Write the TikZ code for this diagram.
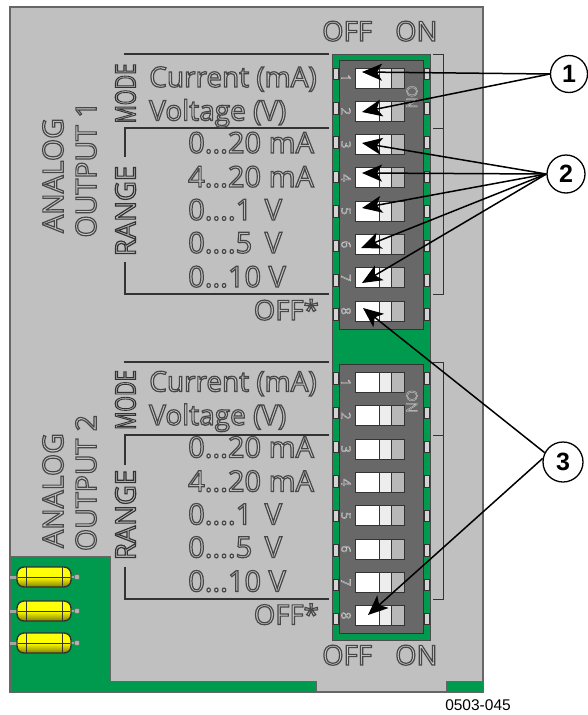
\documentclass[tikz,border=0pt]{standalone}
\usepackage{fontspec}
\setmainfont{Open Sans}
\newfontfamily\arialf{Liberation Sans}
\usetikzlibrary{arrows.meta}
\definecolor{panel}{HTML}{C0C0C0}
\definecolor{board}{HTML}{009A4E}
\definecolor{dipgray}{HTML}{686868}
\definecolor{dark}{HTML}{333333}
\newcommand{\outl}[1]{\special{pdf:code q 2 Tr 1.2 w 0.28 0.28 0.28 RG 0.80 0.80 0.80 rg}#1\special{pdf:code Q}}
\newcommand{\outb}[1]{\special{pdf:code q 2 Tr 1.2 w 0.2 0.2 0.2 RG 0.75 0.75 0.75 rg}#1\special{pdf:code Q}}
\newcommand{\outw}[1]{\special{pdf:code q 2 Tr 0.3 w 0.85 0.85 0.85 RG 0.45 0.45 0.45 rg}#1\special{pdf:code Q}}
\tikzset{
  x=1pt,y=-1pt,
  lab/.style={anchor=base west,inner sep=0pt,font=\fontsize{28}{28}\selectfont},
  labr/.style={anchor=base west,inner sep=0pt,font=\fontsize{29}{28}\selectfont},
  lblr/.style={anchor=base east,inner sep=0pt,font=\fontsize{27.5}{28}\selectfont},
  rotlab/.style={rotate=90,inner sep=0pt,font=\fontsize{28.5}{28}\selectfont},
  modelab/.style={rotate=90,inner sep=0pt,font=\fontsize{28}{28}\selectfont},
  onoff/.style={anchor=base west,inner sep=0pt,font=\fontsize{27.5}{28}\selectfont},
  brule/.style={draw=dark,line width=1.5pt},
  dippin/.style={draw=dark,fill=panel!70!white,line width=.7pt},
  swbox/.style={draw=dark,line width=.9pt},
  callmark/.style={circle,draw=black,fill=white,line width=1.3pt,inner sep=0pt,minimum size=37pt,font=\arialf\fontsize{25}{25}\bfseries\selectfont},
  leader/.style={draw=black,line width=1.5pt,-{Stealth[length=20pt,width=17pt,inset=5pt]}},
  capbody/.style={draw=black!80,line width=1.4pt,rounded corners=7pt,top color=yellow!95!white,bottom color=yellow!50!black,middle color=yellow},
  capline/.style={draw=black!80,line width=.8pt}
}
\begin{document}
\begin{tikzpicture}
\useasboundingbox (0,0) rectangle (587,715);
\fill[white] (0,0) rectangle (587,715);
% panel
\filldraw[fill=panel,draw=black!60,line width=1.2pt] (10,7) rectangle (483,692);
% board areas
\filldraw[fill=board,draw=black!60,line width=.8pt] (10,556) -- (110,556) -- (110,681) -- (316,681) -- (316,692) -- (10,692) -- cycle;
\filldraw[fill=board,draw=black!60,line width=.8pt] (446,681) rectangle (483,692);
% capacitors
\foreach \yy in {577,611,643}{
  \fill[gray!70] (10,\yy-1.5) rectangle (18,\yy+1.5);
  \fill[gray!70] (70,\yy-1.2) rectangle (77,\yy+1.2);
  \filldraw[fill=gray!60,draw=black!60,line width=.5pt] (77,\yy) circle (2.8);
  \path[capbody] (17,\yy-10) rectangle (71,\yy+10);
  \draw[capline] (26,\yy-10) -- (26,\yy+10);
  \draw[capline] (62,\yy-10) -- (62,\yy+10);
  \draw[capline] (18,\yy) -- (70,\yy);
}
% DIP carrier
\filldraw[fill=board,draw=black!70,line width=1pt] (332,54) rectangle (430,640);
\foreach \o/\g/\tp in {0/a/68,304.5/b/372.5}{
  \filldraw[fill=dipgray,draw=dark,line width=1pt] (339,60+\o) rectangle (423,329+\o);
  \foreach \i in {1,...,8}{
    \pgfmathsetmacro{\swt}{\tp+33.3*(\i-1)}
    \pgfmathsetmacro{\pny}{\swt+1.1*(\i-1)}
    \filldraw[dippin] (333.5,\pny) rectangle (338,\pny+11.5);
    \filldraw[dippin] (424,\pny) rectangle (429,\pny+11.5);
    \filldraw[swbox,fill=white] (355,\swt) rectangle (379,\swt+20);
    \filldraw[swbox,fill=white!93!black] (379,\swt) rectangle (391,\swt+20);
    \filldraw[swbox,fill=white!72!black] (391,\swt) rectangle (404,\swt+20);
    \node[rotate=-90,inner sep=0pt,font=\fontsize{13}{13}\selectfont] (n\g\i) at (346,\swt+10) {\outw{\i}};
  }
  \node[rotate=-90,inner sep=0pt,font=\fontsize{15}{15}\selectfont] (on\g) at (412,97+\o) {\outw{ON}};
}
% rules left
\foreach \yt/\ym/\yb/\ra/\rb in {54/128/294/157/262, 362/435/599/465/567}{
  \draw[brule] (124,\yt) -- (329,\yt);
  \draw[brule] (329,\ym) -- (125,\ym) -- (125,\ra);
  \draw[brule] (125,\rb) -- (125,\yb) -- (329,\yb);
  \draw[brule,line width=1pt] (433,\yt) -- (443,\yt) -- (443,\yb) -- (433,\yb);
  \draw[brule,line width=1pt] (433,\ym) -- (443,\ym);
}
% labels
\foreach \o/\g in {0/a,304.5/b}{
  \node[lab] (cur\g) at (149,87+\o) {\outl{Current (mA)}};
  \node[lab] (vol\g) at (149,120.5+\o) {\outl{Voltage (V)}};
  \node[labr] (r1\g) at (188,153+\o) {\outl{0...20 mA}};
  \node[labr] (r2\g) at (188,187+\o) {\outl{4...20 mA}};
  \node[labr] (r3\g) at (188,220+\o) {\outl{0....1\hspace{5pt} V}};
  \node[labr] (r4\g) at (188,253+\o) {\outl{0....5\hspace{5pt} V}};
  \node[labr] (r5\g) at (188,287+\o) {\outl{0...10 V}};
  \node[lblr] (off\g) at (319,320+\o) {\outl{OFF*}};
}
\node[rotlab] (an1) at (53,175.5) {\outl{ANALOG}};
\node[rotlab] (ou1) at (86,169.5) {\outl{OUTPUT 1}};
\node[modelab] (mo1) at (125.5,93.5) {\outb{\scalebox{.72}[1]{MODE}}};
\node[modelab] (ra1) at (125.5,211) {\outb{\scalebox{.98}[1]{RANGE}}};
\node[rotlab] (an2) at (53,490.5) {\outl{ANALOG}};
\node[rotlab] (ou2) at (86,483) {\outl{OUTPUT 2}};
\node[modelab] (mo2) at (125.5,400) {\outb{\scalebox{.72}[1]{MODE}}};
\node[modelab] (ra2) at (125.5,515) {\outb{\scalebox{.98}[1]{RANGE}}};
\node[onoff] (offt) at (322,41) {\outl{OFF}};
\node[onoff] (ont) at (395,41) {\outl{ON}};
\node[onoff] (offb) at (322,665) {\outl{OFF}};
\node[onoff] (onb) at (395,665) {\outl{ON}};
% callouts
\node[callmark] (c1) at (569,74) {1};
\node[callmark,minimum size=38pt] (c2) at (566,174) {2};
\node[callmark,minimum size=40pt] (c3) at (563,462) {3};
\coordinate (t1) at (362,72);
\coordinate (t2) at (362,112);
\coordinate (t3) at (362,143);
\coordinate (t4) at (362,173);
\coordinate (t5) at (362,208);
\coordinate (t6) at (361,248);
\coordinate (t7) at (362,283);
\coordinate (t8) at (363,308);
\coordinate (t9) at (368,615);
\draw[leader] (c1.west) -- (t1);
\draw[leader] (c1.west) -- (t2);
\foreach \k in {3,...,7}{\draw[leader] (c2.west) -- (t\k);}
\draw[leader] (c3.153) -- (t8);
\draw[leader] (c3.170) -- (t9);
\node[inner sep=0pt,font=\arialf\fontsize{15.5}{15.5}\selectfont] (code) at (478,705) {0503-045};
\end{tikzpicture}
\end{document}
